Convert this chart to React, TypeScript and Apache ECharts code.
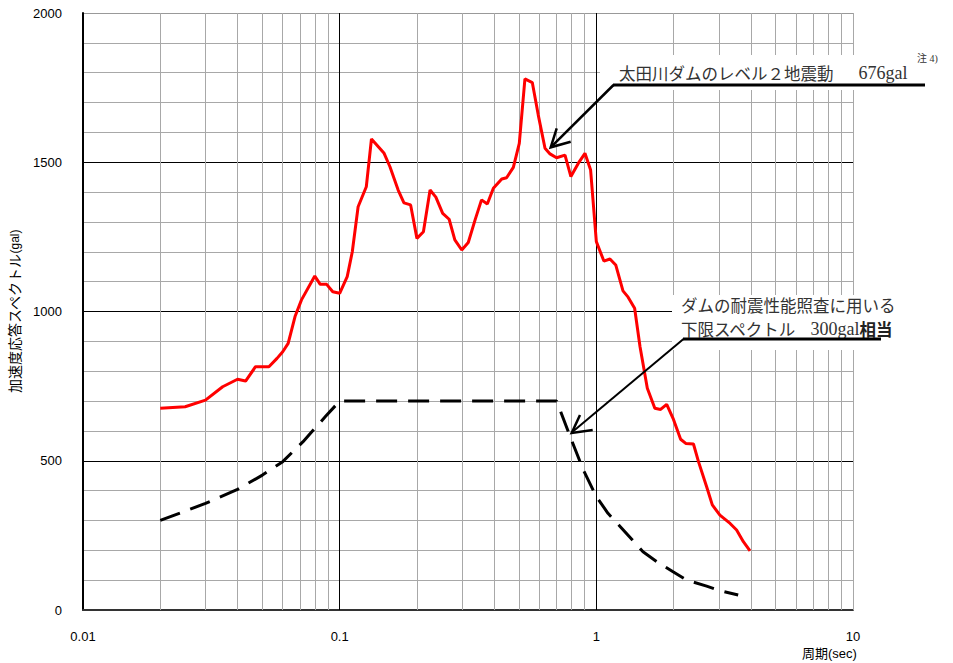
import React, { useEffect, useRef } from "react";
import * as echarts from "echarts";

// ---- Data ----
const xTickLabels = ["0.01", "0.1", "1", "10"];
const yTickLabels = ["0", "500", "1000", "1500", "2000"];

// 太田川ダムのレベル2地震動 (red)
const redPeriods = [
  0.02, 0.025, 0.03, 0.035, 0.04, 0.043, 0.047, 0.053, 0.057, 0.06,
  0.063, 0.067, 0.071, 0.08, 0.084, 0.089, 0.094, 0.1, 0.107, 0.112,
  0.118, 0.127, 0.133, 0.149, 0.157, 0.169, 0.178, 0.189, 0.2, 0.212,
  0.225, 0.237, 0.252, 0.267, 0.281, 0.299, 0.317, 0.337, 0.357, 0.376,
  0.397, 0.428, 0.447, 0.475, 0.501, 0.527, 0.563, 0.594, 0.631, 0.66,
  0.7, 0.755, 0.796, 0.85, 0.903, 0.95, 1.0, 1.07, 1.13, 1.19,
  1.27, 1.33, 1.41, 1.48, 1.58, 1.69, 1.78, 1.88, 1.99, 2.13,
  2.23, 2.39, 2.5, 2.69, 2.83, 3.03, 3.32, 3.52, 3.74, 3.97,
];
const redAccel = [
  676, 681, 703, 748, 773, 767, 815, 815, 843, 865,
  893, 983, 1039, 1119, 1091, 1091, 1066, 1061, 1117, 1200,
  1351, 1418, 1578, 1530, 1485, 1407, 1364, 1357, 1245, 1267,
  1407, 1383, 1329, 1309, 1240, 1206, 1231, 1307, 1374, 1360,
  1413, 1444, 1448, 1483, 1563, 1779, 1767, 1658, 1547, 1528,
  1515, 1524, 1452, 1496, 1530, 1474, 1234, 1169, 1176, 1156,
  1069, 1048, 1011, 882, 743, 676, 672, 689, 642, 572,
  558, 556, 497, 413, 352, 318, 290, 268, 229, 198,
];

// 下限スペクトル (black dashed)
const dashPeriods = [
  0.02, 0.03, 0.04, 0.05, 0.06, 0.072, 0.088, 0.1, 0.7, 0.8,
  0.89, 1.0, 1.11, 1.24, 1.52, 1.72, 1.99, 2.25, 2.69, 3.03, 3.57,
];
const dashAccel = [
  300, 357, 404, 452, 497, 564, 648, 700, 700, 570,
  469, 380, 324, 279, 195, 162, 128, 100, 80, 65, 50,
];

const decades = [0.01, 0.1, 1];
const multipliers = [2, 3, 4, 5, 6, 7, 8, 9];

const CJK = "'Noto Sans CJK JP'";
const SANS = "'Liberation Sans', 'Noto Sans CJK JP'";
const SERIF = "'Liberation Serif', 'Noto Sans CJK JP'";

export default function App() {
  const ref = useRef<HTMLDivElement>(null);

  useEffect(() => {
    const chart = echarts.init(ref.current as HTMLDivElement, null, { renderer: "svg" });

    const minorLines: any[] = [];
    decades.forEach((d) => {
      multipliers.forEach((m) => {
        minorLines.push({ xAxis: +(d * m).toPrecision(3) });
      });
    });
    const gridLines = [
      ...minorLines,
      { xAxis: 10, lineStyle: { color: "#a8a8a8", width: 1, type: "solid" } },
      { xAxis: 0.1, lineStyle: { color: "#000", width: 1, type: "solid" } },
      { xAxis: 1, lineStyle: { color: "#000", width: 1, type: "solid" } },
    ];

    const option: any = {
      animation: false,
      backgroundColor: "#fff",
      grid: { left: 83, top: 13, width: 770, height: 597, containLabel: false },
      xAxis: {
        type: "log",
        logBase: 10,
        min: 0.01,
        max: 10,
        axisLine: { show: true, lineStyle: { color: "#333", width: 2 } },
        axisTick: { show: false },
        splitLine: { show: false },
        axisLabel: {
          margin: 20,
          color: "#000",
          fontSize: 13,
          fontFamily: SANS,
          formatter: (v: number) => {
            const i = Math.round(Math.log10(v)) + 2;
            return xTickLabels[i] ?? "";
          },
        },
      },
      yAxis: {
        type: "value",
        min: 0,
        max: 2000,
        interval: 500,
        name: "{a|加速度応答スペクトル}{b|(gal)}",
        nameLocation: "middle",
        nameGap: 59,
        nameTextStyle: {
          rich: {
            a: { fontSize: 14, fontFamily: SANS, color: "#000" },
            b: { fontSize: 12, fontFamily: SANS, color: "#000" },
          },
        },
        axisLine: { show: true, lineStyle: { color: "#000", width: 2 } },
        axisTick: { show: false },
        axisLabel: {
          margin: 21,
          color: "#000",
          fontSize: 13,
          fontFamily: SANS,
          padding: [8, 0, 0, 0],
          formatter: (v: number) => yTickLabels[Math.round(v / 500)] ?? "",
        },
        splitLine: {
          show: true,
          lineStyle: { color: ["#000", "#000", "#000", "#000", "#999"], width: 1 },
        },
        minorTick: { show: false, splitNumber: 5 },
        minorSplitLine: { show: true, lineStyle: { color: "#a8a8a8", width: 1 } },
      },
      series: [
        {
          name: "grid",
          type: "line",
          data: [],
          silent: true,
          z: 1,
          markLine: {
            z: 1,
            silent: true,
            symbol: ["none", "none"],
            label: { show: false },
            emphasis: { disabled: true },
            lineStyle: { color: "#a8a8a8", width: 1, type: "solid" },
            data: gridLines,
          },
        },
        {
          name: "下限スペクトル",
          type: "line",
          z: 3,
          showSymbol: false,
          symbol: "none",
          silent: true,
          data: dashPeriods.map((p, i) => [p, dashAccel[i]]),
          lineStyle: { color: "#000", width: 3, type: [21, 11] },
        },
        {
          name: "太田川ダムのレベル2地震動",
          type: "line",
          z: 4,
          showSymbol: false,
          symbol: "none",
          silent: true,
          data: redPeriods.map((p, i) => [p, redAccel[i]]),
          lineStyle: { color: "#ff0000", width: 3 },
        },
      ],
      graphic: [
        // white label backgrounds
        { type: "rect", z: 50, shape: { x: 600, y: 55, width: 256, height: 35 }, style: { fill: "#fff" } },
        { type: "rect", z: 50, shape: { x: 672, y: 295, width: 184, height: 55 }, style: { fill: "#fff" } },
        // label 1
        {
          type: "text", z: 60, x: 619, y: 73,
          style: {
            text: "{a|太田川ダムのレベル２地震動}{g| }{b|676gal}",
            verticalAlign: "middle",
            rich: {
              a: { font: `16.5px ${CJK}`, fill: "#333" },
              g: { width: 25, font: `16px ${CJK}` },
              b: { font: `18px ${SERIF}`, fill: "#333" },
            },
          },
        },
        {
          type: "text", z: 60, x: 917, y: 58,
          style: { text: "注 4)", font: `10px ${SERIF}`, fill: "#333", verticalAlign: "middle" },
        },
        { type: "line", z: 60, shape: { x1: 613, y1: 85, x2: 925, y2: 85 }, style: { stroke: "#000", lineWidth: 3 } },
        { type: "line", z: 60, shape: { x1: 613.5, y1: 85, x2: 550.7, y2: 147.3 }, style: { stroke: "#000", lineWidth: 2.5 } },
        {
          type: "polyline", z: 60,
          shape: { points: [[556.7, 128.3], [550.7, 147.3], [570.7, 141.7]] },
          style: { stroke: "#000", lineWidth: 2.5, fill: "none" },
        },
        // label 2
        {
          type: "text", z: 60, x: 681, y: 293,
          style: {
            text: "{l|ダムの耐震性能照査に用いる}\n{l|下限スペクトル}{g| }{b|300gal}{c|相当}",
            verticalAlign: "top",
            rich: {
              l: { font: `16.5px ${CJK}`, fill: "#333", lineHeight: 24 },
              g: { width: 14, font: `16.5px ${CJK}`, lineHeight: 24 },
              b: { font: `18px ${SERIF}`, fill: "#333", lineHeight: 24 },
              c: { font: `bold 16.5px ${CJK}`, fill: "#222", lineHeight: 24 },
            },
          },
        },
        { type: "line", z: 60, shape: { x1: 683, y1: 339, x2: 881, y2: 339 }, style: { stroke: "#000", lineWidth: 3 } },
        { type: "line", z: 60, shape: { x1: 683.5, y1: 339, x2: 571.7, y2: 432.5 }, style: { stroke: "#000", lineWidth: 2 } },
        {
          type: "polyline", z: 60,
          shape: { points: [[580, 415], [571.7, 433], [592.7, 430]] },
          style: { stroke: "#000", lineWidth: 2.5, fill: "none" },
        },
        // x-axis name
        {
          type: "text", z: 60, x: 802, y: 653,
          style: { text: "周期(sec)", font: `13px ${SANS}`, fill: "#000", verticalAlign: "middle" },
        },
      ],
    };

    chart.setOption(option);
    return () => chart.dispose();
  }, []);

  return (
    <div
      ref={ref}
      style={{ position: "fixed", left: 0, top: 0, width: 953, height: 663, background: "#fff" }}
    />
  );
}
